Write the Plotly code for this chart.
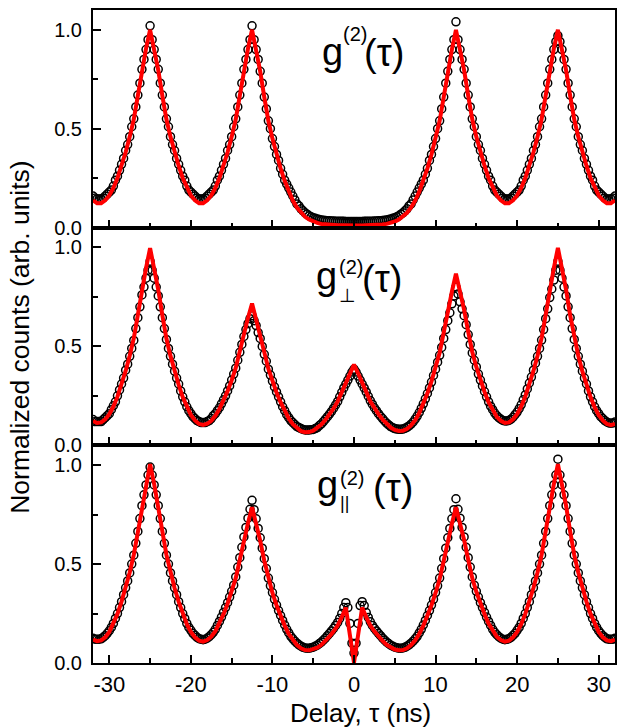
import numpy as np
import plotly.graph_objects as go
from plotly.subplots import make_subplots

# ---------------- data ----------------
delay_fit_ns = np.linspace(-32, 32, 129)    # 0.5 ns grid for fitted curves
delay_data_ns = np.linspace(-32, 32, 257)   # 0.25 ns grid for measured points

# g2(tau) - fit (red)
g2_fit = [
    0.138, 0.124, 0.124, 0.138, 0.163, 0.201, 0.251, 0.313,
    0.381, 0.459, 0.548, 0.667, 0.796, 0.905, 1.000, 0.905,
    0.796, 0.667, 0.548, 0.459, 0.381, 0.313, 0.251, 0.201,
    0.163, 0.138, 0.124, 0.124, 0.138, 0.163, 0.201, 0.251,
    0.313, 0.381, 0.459, 0.548, 0.667, 0.796, 0.905, 1.000,
    0.900, 0.790, 0.660, 0.540, 0.450, 0.370, 0.300, 0.237,
    0.182, 0.137, 0.102, 0.075, 0.055, 0.041, 0.031, 0.024,
    0.019, 0.016, 0.015, 0.013, 0.012, 0.012, 0.011, 0.010,
    0.010, 0.010, 0.011, 0.012, 0.012, 0.013, 0.015, 0.016,
    0.019, 0.024, 0.031, 0.041, 0.055, 0.075, 0.102, 0.137,
    0.182, 0.237, 0.300, 0.370, 0.450, 0.540, 0.660, 0.790,
    0.900, 1.000, 0.905, 0.796, 0.667, 0.548, 0.459, 0.381,
    0.313, 0.251, 0.201, 0.163, 0.138, 0.124, 0.124, 0.138,
    0.163, 0.201, 0.251, 0.313, 0.381, 0.459, 0.548, 0.667,
    0.796, 0.905, 1.000, 0.905, 0.796, 0.667, 0.548, 0.459,
    0.381, 0.313, 0.251, 0.201, 0.163, 0.138, 0.124, 0.124,
    0.138,
]

# g2(tau) - measured (open circles)
g2_data = [
    0.16, 0.15, 0.145, 0.145, 0.145, 0.15, 0.16, 0.17,
    0.18, 0.19, 0.21, 0.24, 0.26, 0.29, 0.32, 0.35,
    0.39, 0.42, 0.46, 0.51, 0.55, 0.61, 0.67, 0.73,
    0.80, 0.85, 0.90, 0.95, 1.02, 0.95, 0.90, 0.85,
    0.80, 0.73, 0.67, 0.61, 0.55, 0.51, 0.46, 0.42,
    0.39, 0.35, 0.32, 0.29, 0.26, 0.24, 0.21, 0.19,
    0.18, 0.17, 0.16, 0.15, 0.145, 0.145, 0.145, 0.15,
    0.16, 0.17, 0.18, 0.19, 0.21, 0.24, 0.26, 0.29,
    0.32, 0.35, 0.39, 0.42, 0.46, 0.51, 0.55, 0.61,
    0.67, 0.73, 0.80, 0.85, 0.90, 0.95, 1.02, 0.95,
    0.90, 0.85, 0.79, 0.73, 0.66, 0.60, 0.54, 0.50,
    0.45, 0.41, 0.37, 0.34, 0.30, 0.27, 0.24, 0.22,
    0.20, 0.18, 0.16, 0.14, 0.12, 0.11, 0.095, 0.085,
    0.075, 0.068, 0.06, 0.055, 0.05, 0.047, 0.044, 0.041,
    0.039, 0.037, 0.036, 0.035, 0.035, 0.034, 0.034, 0.033,
    0.033, 0.032, 0.032, 0.032, 0.031, 0.031, 0.031, 0.031,
    0.031, 0.031, 0.031, 0.031, 0.031, 0.032, 0.032, 0.032,
    0.033, 0.033, 0.034, 0.034, 0.035, 0.035, 0.036, 0.037,
    0.039, 0.041, 0.044, 0.047, 0.05, 0.055, 0.06, 0.068,
    0.075, 0.085, 0.095, 0.11, 0.12, 0.14, 0.16, 0.18,
    0.20, 0.22, 0.24, 0.27, 0.30, 0.34, 0.37, 0.41,
    0.45, 0.50, 0.54, 0.60, 0.66, 0.73, 0.79, 0.85,
    0.90, 0.95, 1.04, 0.95, 0.90, 0.85, 0.80, 0.73,
    0.67, 0.61, 0.55, 0.51, 0.46, 0.42, 0.39, 0.35,
    0.32, 0.29, 0.26, 0.24, 0.21, 0.19, 0.18, 0.17,
    0.16, 0.15, 0.145, 0.145, 0.145, 0.15, 0.16, 0.17,
    0.18, 0.19, 0.21, 0.24, 0.26, 0.29, 0.32, 0.35,
    0.39, 0.42, 0.46, 0.51, 0.55, 0.61, 0.67, 0.73,
    0.80, 0.85, 0.90, 0.94, 0.97, 0.94, 0.90, 0.85,
    0.80, 0.73, 0.67, 0.61, 0.55, 0.51, 0.46, 0.42,
    0.39, 0.35, 0.32, 0.29, 0.26, 0.24, 0.21, 0.19,
    0.18, 0.17, 0.16, 0.15, 0.145, 0.145, 0.145, 0.15,
    0.16,
]

# g2_perp(tau) - fit
g2_perp_fit = [
    0.123, 0.113, 0.116, 0.131, 0.157, 0.196, 0.246, 0.308,
    0.376, 0.453, 0.541, 0.659, 0.787, 0.895, 0.997, 0.895,
    0.786, 0.658, 0.540, 0.452, 0.374, 0.306, 0.244, 0.193,
    0.154, 0.126, 0.108, 0.103, 0.109, 0.124, 0.149, 0.183,
    0.226, 0.274, 0.328, 0.391, 0.476, 0.567, 0.644, 0.717,
    0.641, 0.563, 0.471, 0.387, 0.323, 0.267, 0.218, 0.173,
    0.136, 0.107, 0.086, 0.072, 0.066, 0.067, 0.074, 0.087,
    0.105, 0.129, 0.156, 0.186, 0.222, 0.269, 0.320, 0.364,
    0.408, 0.364, 0.321, 0.270, 0.223, 0.188, 0.158, 0.131,
    0.108, 0.090, 0.078, 0.073, 0.074, 0.083, 0.101, 0.127,
    0.163, 0.209, 0.263, 0.323, 0.391, 0.468, 0.570, 0.682,
    0.776, 0.867, 0.779, 0.685, 0.575, 0.472, 0.396, 0.329,
    0.271, 0.218, 0.176, 0.144, 0.124, 0.113, 0.116, 0.132,
    0.158, 0.196, 0.247, 0.308, 0.376, 0.453, 0.542, 0.659,
    0.787, 0.895, 0.998, 0.895, 0.786, 0.658, 0.541, 0.452,
    0.374, 0.306, 0.244, 0.193, 0.153, 0.126, 0.108, 0.102,
    0.108,
]

# g2_perp(tau) - measured
g2_perp_data = [
    0.13, 0.12, 0.12, 0.12, 0.12, 0.13, 0.14, 0.15,
    0.16, 0.18, 0.20, 0.22, 0.25, 0.28, 0.31, 0.34,
    0.38, 0.41, 0.45, 0.49, 0.53, 0.59, 0.645, 0.70,
    0.76, 0.80, 0.845, 0.885, 0.93, 0.885, 0.845, 0.80,
    0.755, 0.70, 0.645, 0.59, 0.535, 0.49, 0.45, 0.41,
    0.375, 0.34, 0.31, 0.275, 0.245, 0.22, 0.195, 0.175,
    0.16, 0.145, 0.135, 0.125, 0.12, 0.115, 0.115, 0.115,
    0.12, 0.125, 0.135, 0.15, 0.16, 0.175, 0.19, 0.21,
    0.23, 0.25, 0.275, 0.30, 0.33, 0.36, 0.39, 0.43,
    0.47, 0.51, 0.55, 0.585, 0.615, 0.64, 0.655, 0.63,
    0.605, 0.57, 0.54, 0.50, 0.46, 0.425, 0.385, 0.355,
    0.325, 0.295, 0.27, 0.245, 0.22, 0.195, 0.175, 0.155,
    0.14, 0.125, 0.115, 0.105, 0.095, 0.09, 0.085, 0.08,
    0.078, 0.077, 0.078, 0.079, 0.08, 0.085, 0.09, 0.10,
    0.108, 0.12, 0.132, 0.145, 0.158, 0.172, 0.188, 0.205,
    0.222, 0.245, 0.268, 0.29, 0.31, 0.33, 0.35, 0.37,
    0.385, 0.37, 0.35, 0.33, 0.31, 0.29, 0.27, 0.248,
    0.226, 0.208, 0.19, 0.175, 0.16, 0.147, 0.135, 0.123,
    0.112, 0.103, 0.095, 0.089, 0.085, 0.082, 0.081, 0.081,
    0.082, 0.086, 0.091, 0.098, 0.107, 0.118, 0.132, 0.148,
    0.166, 0.187, 0.21, 0.235, 0.262, 0.29, 0.32, 0.353,
    0.385, 0.42, 0.455, 0.495, 0.54, 0.585, 0.63, 0.67,
    0.715, 0.755, 0.80, 0.765, 0.725, 0.69, 0.655, 0.61,
    0.56, 0.51, 0.467, 0.43, 0.396, 0.36, 0.33, 0.30,
    0.272, 0.245, 0.22, 0.198, 0.18, 0.163, 0.15, 0.14,
    0.132, 0.126, 0.123, 0.123, 0.126, 0.132, 0.142, 0.155,
    0.168, 0.185, 0.205, 0.23, 0.255, 0.285, 0.315, 0.345,
    0.38, 0.415, 0.45, 0.49, 0.532, 0.585, 0.64, 0.69,
    0.747, 0.79, 0.835, 0.885, 0.93, 0.885, 0.845, 0.80,
    0.755, 0.70, 0.645, 0.59, 0.535, 0.49, 0.45, 0.41,
    0.375, 0.34, 0.31, 0.275, 0.245, 0.22, 0.195, 0.175,
    0.16, 0.145, 0.135, 0.125, 0.118, 0.113, 0.112, 0.113,
    0.118,
]

# g2_par(tau) - fit
g2_par_fit = [
    0.118, 0.110, 0.114, 0.130, 0.157, 0.197, 0.248, 0.310,
    0.379, 0.457, 0.546, 0.666, 0.795, 0.904, 1.005, 0.904,
    0.795, 0.666, 0.546, 0.457, 0.379, 0.310, 0.248, 0.196,
    0.157, 0.130, 0.113, 0.108, 0.116, 0.133, 0.161, 0.199,
    0.247, 0.300, 0.360, 0.429, 0.522, 0.622, 0.707, 0.787,
    0.704, 0.618, 0.517, 0.424, 0.354, 0.292, 0.238, 0.189,
    0.147, 0.115, 0.091, 0.074, 0.065, 0.064, 0.068, 0.077,
    0.092, 0.112, 0.134, 0.160, 0.190, 0.232, 0.280, 0.140,
    0.002, 0.140, 0.280, 0.232, 0.190, 0.160, 0.134, 0.112,
    0.092, 0.077, 0.068, 0.064, 0.065, 0.074, 0.091, 0.115,
    0.147, 0.189, 0.238, 0.292, 0.354, 0.424, 0.517, 0.618,
    0.704, 0.787, 0.707, 0.622, 0.522, 0.429, 0.360, 0.300,
    0.247, 0.199, 0.161, 0.133, 0.116, 0.108, 0.113, 0.130,
    0.157, 0.196, 0.248, 0.310, 0.379, 0.457, 0.546, 0.666,
    0.795, 0.904, 1.005, 0.904, 0.795, 0.666, 0.546, 0.457,
    0.379, 0.310, 0.248, 0.197, 0.157, 0.130, 0.114, 0.110,
    0.118,
]

# g2_par(tau) - measured
g2_par_data = [
    0.125, 0.12, 0.12, 0.12, 0.122, 0.13, 0.138, 0.15,
    0.163, 0.18, 0.20, 0.225, 0.25, 0.28, 0.31, 0.345,
    0.38, 0.415, 0.455, 0.50, 0.545, 0.605, 0.665, 0.73,
    0.795, 0.85, 0.90, 0.95, 0.99, 0.95, 0.90, 0.85,
    0.795, 0.73, 0.665, 0.605, 0.545, 0.50, 0.455, 0.415,
    0.38, 0.345, 0.31, 0.28, 0.25, 0.225, 0.20, 0.18,
    0.165, 0.15, 0.14, 0.13, 0.123, 0.12, 0.118, 0.12,
    0.125, 0.133, 0.143, 0.155, 0.17, 0.19, 0.21, 0.232,
    0.256, 0.28, 0.305, 0.333, 0.362, 0.393, 0.435, 0.485,
    0.532, 0.585, 0.637, 0.685, 0.732, 0.777, 0.822, 0.775,
    0.729, 0.68, 0.633, 0.58, 0.527, 0.477, 0.429, 0.39,
    0.356, 0.322, 0.293, 0.265, 0.24, 0.215, 0.192, 0.17,
    0.152, 0.135, 0.122, 0.11, 0.10, 0.092, 0.085, 0.079,
    0.076, 0.075, 0.075, 0.077, 0.08, 0.085, 0.09, 0.098,
    0.106, 0.116, 0.126, 0.138, 0.15, 0.162, 0.175, 0.19,
    0.205, 0.225, 0.25, 0.28, 0.305, 0.28, 0.20, 0.10,
    0.05, 0.10, 0.20, 0.29, 0.31, 0.29, 0.255, 0.23,
    0.208, 0.19, 0.175, 0.162, 0.15, 0.138, 0.126, 0.116,
    0.106, 0.098, 0.09, 0.085, 0.08, 0.077, 0.075, 0.075,
    0.076, 0.079, 0.085, 0.092, 0.10, 0.11, 0.122, 0.135,
    0.152, 0.17, 0.192, 0.215, 0.24, 0.265, 0.293, 0.322,
    0.356, 0.39, 0.429, 0.477, 0.527, 0.58, 0.633, 0.68,
    0.729, 0.775, 0.83, 0.777, 0.732, 0.685, 0.637, 0.585,
    0.532, 0.485, 0.435, 0.393, 0.362, 0.333, 0.305, 0.28,
    0.256, 0.232, 0.21, 0.19, 0.17, 0.155, 0.143, 0.133,
    0.125, 0.12, 0.118, 0.12, 0.123, 0.13, 0.14, 0.15,
    0.165, 0.18, 0.20, 0.225, 0.25, 0.28, 0.31, 0.345,
    0.38, 0.415, 0.455, 0.50, 0.545, 0.605, 0.665, 0.73,
    0.795, 0.85, 0.90, 0.95, 1.03, 0.95, 0.90, 0.85,
    0.795, 0.73, 0.665, 0.605, 0.545, 0.50, 0.455, 0.415,
    0.38, 0.345, 0.31, 0.28, 0.25, 0.225, 0.20, 0.18,
    0.163, 0.15, 0.138, 0.13, 0.122, 0.12, 0.12, 0.12,
    0.125,
]

x_tick_vals = [-30, -20, -10, 0, 10, 20, 30]
x_tick_text = ["-30", "-20", "-10", "0", "10", "20", "30"]
x_minor_vals = [-25, -15, -5, 5, 15, 25]
y_tick_vals = [0.0, 0.5, 1.0]
y_tick_text = ["0.0", "0.5", "1.0"]
y_minor_vals = [0.25, 0.75]

FONT = "Liberation Sans, Arial, DejaVu Sans, sans-serif"

# ---------------- figure ----------------
fig = make_subplots(rows=3, cols=1, shared_xaxes=True, vertical_spacing=0)

panels = [(g2_data, g2_fit), (g2_perp_data, g2_perp_fit), (g2_par_data, g2_par_fit)]
for i, (meas, fit) in enumerate(panels, start=1):
    fig.add_trace(go.Scatter(
        x=delay_data_ns, y=meas, mode="markers",
        marker=dict(symbol="circle-open", size=8, color="black", line=dict(width=1.5)),
        showlegend=False, hoverinfo="skip"), row=i, col=1)
    fig.add_trace(go.Scatter(
        x=delay_fit_ns, y=fit, mode="lines",
        line=dict(color="#ff0000", width=4),
        showlegend=False), row=i, col=1)

axis_common = dict(showline=True, linecolor="black", linewidth=2, mirror=True,
                   ticks="inside", ticklen=8, tickwidth=1.5, tickcolor="black",
                   showgrid=False, zeroline=False)

fig.update_xaxes(range=[-32, 32], tickvals=x_tick_vals, ticktext=x_tick_text,
                 minor=dict(ticks="inside", ticklen=5, tickwidth=1.5, tickcolor="black",
                            tickvals=x_minor_vals, showgrid=False),
                 tickfont=dict(family=FONT, size=22, color="black"),
                 ticklabelstandoff=1, **axis_common)
fig.update_xaxes(showticklabels=False, row=1, col=1)
fig.update_xaxes(showticklabels=False, row=2, col=1)

fig.update_yaxes(range=[0, 1.1], tickvals=y_tick_vals, ticktext=y_tick_text,
                 minor=dict(ticks="inside", ticklen=5, tickwidth=1.5, tickcolor="black",
                            tickvals=y_minor_vals, showgrid=False),
                 tickfont=dict(family=FONT, size=20, color="black"),
                 ticklabelstandoff=5, **axis_common)

# ---------------- labels ----------------
L, W, B, H = 93, 524, 663, 654   # plot area in pixels (left, width, bottom, height)


def px(x):
    return (x - L) / W


def py(y):
    return (B - y) / H


annots = []


def txt(text, x, y, size, xanchor="center", yanchor="bottom", angle=0):
    annots.append(dict(text=text, x=px(x), y=py(y), xref="paper", yref="paper",
                       xanchor=xanchor, yanchor=yanchor, showarrow=False,
                       textangle=angle, borderpad=0,
                       font=dict(family=FONT, size=size, color="black")))


# panel 1: g^(2)(tau)
txt("g", 333, 73, 38)
txt("(2)", 356, 45, 20)
txt("(τ)", 385, 74, 38)
# panel 2: g_perp^(2)(tau)
txt("g", 327, 297, 38)
txt("(2)", 352, 278, 20)
txt("⊥", 348, 306, 19)
txt("(τ)", 383, 300, 38)
# panel 3: g_par^(2) (tau)
txt("g", 328, 507, 38)
txt("(2)", 353, 490, 20)
txt("||", 345, 514, 18)
txt("(τ)", 394, 510, 38)

txt("Delay, τ (ns)", 362, 713, 26, yanchor="middle")
txt("Normalized counts (arb. units)", 20, 337, 26.5, yanchor="middle", angle=-90)

fig.update_layout(
    width=625, height=727,
    margin=dict(l=L, r=625 - L - W, t=B - H, b=727 - B),
    plot_bgcolor="white", paper_bgcolor="white",
    font=dict(family=FONT, color="black"),
    annotations=annots,
)

fig.write_html("out.html")
